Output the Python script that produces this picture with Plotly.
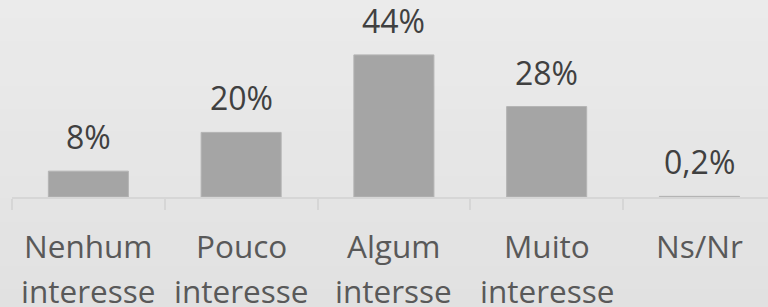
import plotly.graph_objects as go

categories = ["Nenhum interesse", "Pouco interesse", "Algum intersse", "Muito interesse", "Ns/Nr"]
line1 = ["Nenhum", "Pouco", "Algum", "Muito", "Ns/Nr"]
line2 = ["interesse", "interesse", "intersse", "interesse", ""]
values = [8, 20, 44, 28, 0.2]
value_labels = ["8%", "20%", "44%", "28%", "0,2%"]

FONT = "Open Sans"
fig = go.Figure()
fig.add_trace(go.Bar(
    x=categories, y=values,
    marker=dict(color="#A5A5A5", line=dict(color="#B4B4B4", width=1)),
    hoverinfo="skip",
))

annotations = []
for c, v, t in zip(categories, values, value_labels):
    annotations.append(dict(x=c, y=v, xref="x", yref="y", text=t, showarrow=False,
                            yanchor="bottom", yshift=11,
                            font=dict(family=FONT, size=32, color="#404040")))
for c, a, b in zip(categories, line1, line2):
    annotations.append(dict(x=c, y=0, xref="x", yref="y", text=a, showarrow=False,
                            yanchor="top", yshift=-25,
                            font=dict(family=FONT, size=31.5, color="#595959")))
    if b:
        annotations.append(dict(x=c, y=0, xref="x", yref="y", text=b, showarrow=False,
                                yanchor="top", yshift=-70,
                                font=dict(family=FONT, size=31.5, color="#595959")))

# subtle vertical background gradient (paper coords: 0 = axis baseline, 1 = top)
shapes = []
n = 14
top = (0xEB, 0xEB, 0xEB)
bot = (0xE1, 0xE1, 0xE1)
y_hi, y_lo = 1.02, -0.58
for i in range(n):
    f = i / (n - 1)
    col = tuple(round(top[k] + (bot[k] - top[k]) * f) for k in range(3))
    y1 = y_hi - (y_hi - y_lo) * i / n
    y0 = y_hi - (y_hi - y_lo) * (i + 1) / n
    shapes.append(dict(type="rect", xref="paper", yref="paper", layer="below",
                       x0=-0.05, x1=1.05, y0=y0 - 0.002, y1=y1,
                       fillcolor="rgb(%d,%d,%d)" % col, line=dict(width=0)))

fig.update_layout(
    width=768, height=307,
    margin=dict(l=12, r=0, t=0, b=110),
    paper_bgcolor="#E6E6E6", plot_bgcolor="rgba(0,0,0,0)",
    bargap=0.476,
    showlegend=False,
    annotations=annotations,
    shapes=shapes,
    xaxis=dict(range=[-0.5, 4.449], showticklabels=False, showgrid=False,
               showline=True, linecolor="#D6D6D6", linewidth=2,
               ticks="outside", tickson="boundaries", ticklen=11, tickwidth=2, tickcolor="#D6D6D6",
               fixedrange=True),
    yaxis=dict(range=[0, 61], visible=False, showgrid=False, zeroline=False, fixedrange=True),
)

fig.write_html("out.html", config={"displayModeBar": False},
               post_script="document.body.style.margin='0';document.body.style.overflow='hidden';")
